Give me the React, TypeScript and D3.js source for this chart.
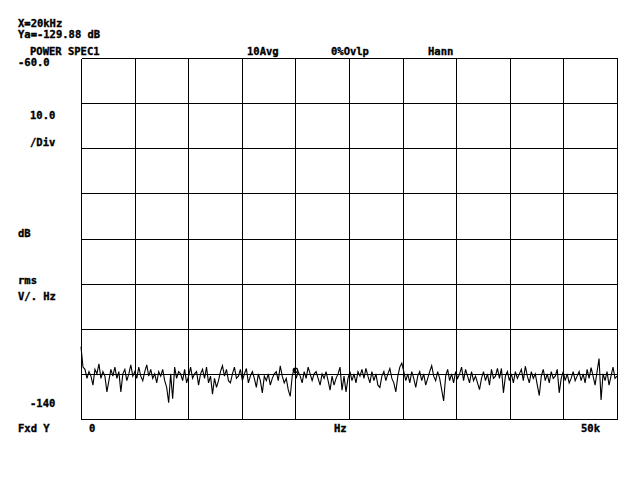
import React from "react";
import * as d3 from "d3";

const W = 640;
const H = 480;

const X_MAX = 50000;
const Y_TOP = -60;
const Y_BOTTOM = -140;
const X_DIVS = 10;
const Y_DIVS = 8;

const MARKER_HZ = 20000;
const MARKER_DB = -129.88;

const headerLines = ["X=20kHz", "Ya=-129.88 dB"];
const topLabels = ["POWER SPEC1", "10Avg", "0%Ovlp", "Hann"];
const leftLabels = ["-60.0", "10.0", "/Div", "dB", "rms", "V/. Hz", "-140", "Fxd Y"];
const bottomLabels = ["0", "Hz", "50k"];

// Trace values (dB), evenly spaced 0..50 kHz
const traceDb: number[] = [
  -124.0, -128.5, -129.0, -131.0, -129.5, -130.5, -132.5, -129.0, -130.0, -127.8,
  -131.0, -129.5, -130.5, -134.0, -131.5, -129.0, -130.5, -128.5, -131.0, -129.5,
  -134.0, -130.0, -129.0, -131.5, -130.0, -128.0, -130.5, -129.5, -131.0, -128.5,
  -130.5, -131.5, -129.5, -128.0, -130.5, -129.0, -131.0, -130.0, -132.0, -129.5,
  -130.5, -129.0, -131.5, -133.0, -136.4, -130.0, -135.5, -128.5, -131.0, -129.5,
  -130.0, -131.5, -129.0, -132.0, -130.5, -128.5, -131.0, -130.0, -129.5, -132.5,
  -130.0, -129.0, -131.0, -128.5, -132.0, -130.5, -134.5, -131.0, -133.0, -131.5,
  -129.5, -128.2, -130.5, -129.0, -131.5, -132.0, -130.0, -128.5, -131.0, -130.5,
  -129.0, -131.5, -130.0, -128.8, -132.0, -130.5, -129.5, -131.0, -133.0, -130.0,
  -131.5, -134.2, -130.5, -131.5, -130.0, -132.5, -131.0, -130.0, -129.5, -131.5,
  -128.2, -130.5, -132.0, -131.0, -133.5, -135.0, -130.5, -128.8, -131.0, -129.5,
  -130.5, -132.0, -129.5, -131.0, -128.5, -130.0, -131.5, -130.0, -129.5, -131.0,
  -132.5, -130.0, -131.0, -129.5, -131.5, -133.6, -130.5, -132.5, -131.0, -130.0,
  -128.5, -133.6, -130.5, -134.0, -131.0, -129.5, -131.5, -130.0, -132.0, -129.5,
  -130.5, -129.0, -131.0, -128.8, -130.5, -132.0, -129.5, -131.5, -130.0, -132.5,
  -133.0, -130.5, -129.5, -131.5, -130.0, -128.8, -131.0, -132.0, -134.0, -130.5,
  -128.5, -127.6, -129.5, -131.5, -130.0, -132.0, -129.5, -131.0, -133.0, -130.5,
  -129.5, -131.5, -130.0, -132.5, -131.0, -129.5, -128.2, -130.5, -131.5, -129.5,
  -131.0, -133.5, -136.0, -130.5, -129.0, -131.5, -130.0, -132.0, -129.5, -131.0,
  -130.0, -128.5, -131.5, -129.0, -130.5, -132.0, -129.5, -131.5, -130.5, -132.0,
  -133.5, -131.0, -129.5, -131.5, -130.0, -132.5, -129.0, -131.0, -130.5, -128.8,
  -131.0, -128.8, -134.2, -130.5, -129.5, -131.5, -130.0, -132.0, -129.5, -131.0,
  -130.0, -129.0, -131.5, -128.3, -130.5, -132.0, -129.5, -131.0, -130.0, -132.5,
  -134.8, -130.5, -129.0, -131.5, -130.0, -132.0, -129.5, -131.0, -130.5, -129.0,
  -134.2, -131.0, -129.5, -131.5, -130.0, -132.0, -131.0, -129.5, -131.5, -130.5,
  -129.5, -131.5, -130.0, -132.0, -129.0, -131.0, -128.6, -130.5, -132.5, -129.5,
  -126.6, -135.8, -130.0, -131.5, -129.5, -132.5, -130.5, -128.5, -131.0, -130.5,
];

const FONT = "'DejaVu Sans Mono', monospace";

export default function App() {
  const x = d3.scaleLinear().domain([0, X_MAX]).range([81, 617]);
  const y = d3.scaleLinear().domain([Y_TOP, Y_BOTTOM]).range([58, 419]);

  const xTicks = d3.range(0, X_DIVS + 1).map((i) => (i * X_MAX) / X_DIVS);
  const yTicks = d3.range(0, Y_DIVS + 1).map((i) => Y_TOP + (i * (Y_BOTTOM - Y_TOP)) / Y_DIVS);

  const n = traceDb.length;
  const line = d3
    .line<number>()
    .x((_, i) => x((i * X_MAX) / (n - 1)))
    .y((d) => y(d));

  const snap = (v: number) => Math.round(v) + 0.5;

  const textProps = {
    fontFamily: FONT,
    fontWeight: 700,
    fontSize: 10.5,
    fill: "#000",
    stroke: "#000",
    strokeWidth: 0.35,
  } as const;

  return (
    <svg
      width={W}
      height={H}
      style={{ position: "absolute", left: 0, top: 0, background: "#fff" }}
    >
      <rect x={0} y={0} width={W} height={H} fill="#fff" />
      {/* Grid */}
      <g stroke="#000" strokeWidth={1} shapeRendering="crispEdges">
        {xTicks.map((t) => (
          <line key={"vx" + t} x1={snap(x(t))} x2={snap(x(t))} y1={snap(y(Y_TOP))} y2={snap(y(Y_BOTTOM))} />
        ))}
        {yTicks.map((t) => (
          <line key={"hy" + t} x1={snap(x(0))} x2={snap(x(X_MAX))} y1={snap(y(t))} y2={snap(y(t))} />
        ))}
      </g>
      {/* Trace */}
      <path d={line(traceDb) || ""} fill="none" stroke="#000" strokeWidth={1.1} />
      {/* Marker */}
      <circle cx={x(MARKER_HZ)} cy={y(MARKER_DB) - 3} r={2.2} fill="none" stroke="#000" strokeWidth={1.2} />

      {/* Header */}
      <text x={18} y={27} {...textProps}>{headerLines[0]}</text>
      <text x={18} y={38} {...textProps}>{headerLines[1]}</text>
      <text x={30} y={55} {...textProps}>{topLabels[0]}</text>
      <text x={247} y={55} {...textProps}>{topLabels[1]}</text>
      <text x={331} y={55} {...textProps}>{topLabels[2]}</text>
      <text x={428} y={55} {...textProps}>{topLabels[3]}</text>

      {/* Left */}
      <text x={18} y={66} {...textProps}>{leftLabels[0]}</text>
      <text x={30} y={119} {...textProps}>{leftLabels[1]}</text>
      <text x={30} y={146} {...textProps}>{leftLabels[2]}</text>
      <text x={18} y={237} {...textProps}>{leftLabels[3]}</text>
      <text x={18} y={284} {...textProps}>{leftLabels[4]}</text>
      <text x={18} y={300} {...textProps} xmlSpace="preserve">{leftLabels[5]}</text>
      <text x={30} y={407} {...textProps}>{leftLabels[6]}</text>
      <text x={18} y={432} {...textProps}>{leftLabels[7]}</text>

      {/* Bottom */}
      <text x={89} y={432} {...textProps}>{bottomLabels[0]}</text>
      <text x={334} y={432} {...textProps}>{bottomLabels[1]}</text>
      <text x={581} y={432} {...textProps}>{bottomLabels[2]}</text>
    </svg>
  );
}
